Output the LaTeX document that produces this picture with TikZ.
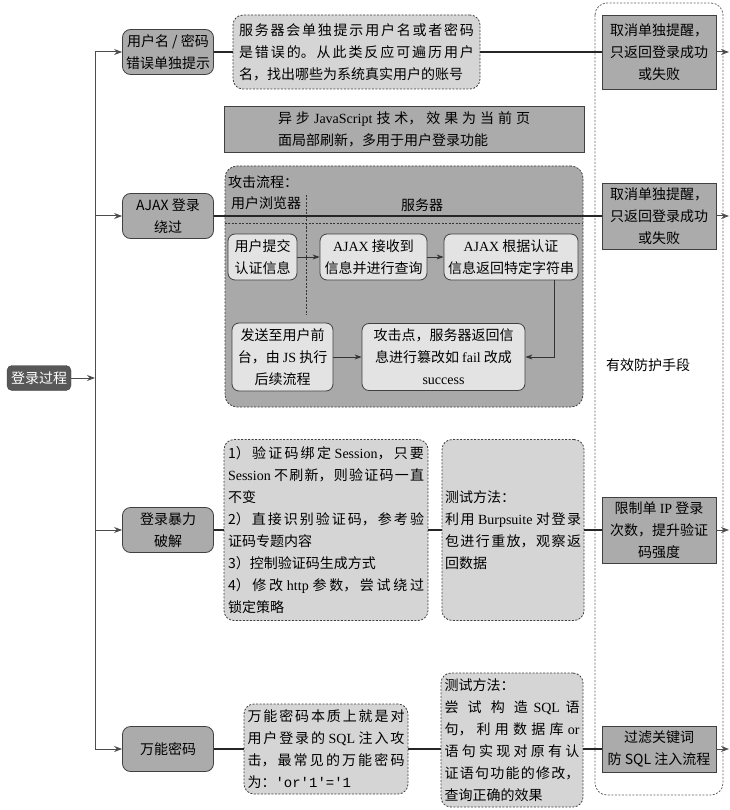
\documentclass[tikz,border=0pt]{standalone}
\usepackage{fontspec}
\setmainfont{Noto Sans CJK SC}
\setmonofont{Liberation Mono}
\newfontfamily\serifen{Liberation Serif}
\usepackage{tikz}
\usetikzlibrary{positioning,arrows.meta}
\XeTeXlinebreaklocale "zh"
\XeTeXlinebreakskip=0pt plus 6pt
\tolerance=9999
\hbadness=10000
\definecolor{rootgray}{HTML}{585858}
\definecolor{boxgray}{HTML}{ABABAB}
\definecolor{notegray}{HTML}{D5D5D5}
\definecolor{flowgray}{HTML}{A9A9A9}
\definecolor{cellgray}{HTML}{E3E3E3}
\definecolor{edgegray}{HTML}{404040}

\begin{document}
\begin{tikzpicture}[x=1pt,y=-1pt,font=\fontsize{14}{22}\selectfont,
  every node/.style={inner sep=2pt},
  topic/.style={draw=edgegray,line width=0.8pt,fill=boxgray,rounded corners=8pt,minimum width=91pt,minimum height=45pt,align=center},
  note/.style={draw=edgegray,line width=0.8pt,fill=notegray,dash pattern=on 2pt off 1.5pt,rounded corners=10pt,align=justify,inner xsep=4pt},
  cure/.style={draw=edgegray,line width=0.9pt,fill=boxgray,minimum width=114pt,align=center},
  cell/.style={draw=edgegray,line width=0.8pt,fill=cellgray,rounded corners=7pt,align=center},
  link/.style={line width=2.4pt,draw=black!85},
  branch/.style={draw=black!70,line width=1pt,-{Stealth[length=8pt,width=6pt]}},
  flowarrow/.style={draw=black!80,line width=0.9pt,-{Stealth[length=7pt,width=5pt]}},
  lane/.style={draw=black!80,line width=0.8pt,dash pattern=on 2pt off 1.5pt}]
\useasboundingbox (0,0) rectangle (729,810);
\coordinate (trunk) at (95,0);
\coordinate (edge) at (729,0);

\draw[draw=black!60,line width=0.8pt,dash pattern=on 2pt off 1.5pt,rounded corners=12pt] (595,3) rectangle (723,795);
\node (guard) at (648,365) {有效防护手段};

\node[fill=rootgray,draw=edgegray,text=white,rounded corners=5pt,minimum width=64pt,minimum height=25pt] (root) at (39,378) {登录过程};

\node[topic] (b1) at (168,52) {用户名 / 密码\\错误单独提示};
\node[note,text width=235pt,minimum height=74pt,inner xsep=6pt] (d1) at (356.5,52) {服务器会单独提示用户名或者密码\break 是错误的。从此类反应可遍历用户\break 名，找出哪些为系统真实用户的账号};
\node[cure,minimum height=74pt] (r1) at (659,52) {取消单独提醒，\\只返回登录成功\\或失败};

\node[draw=edgegray,line width=0.8pt,fill=boxgray,minimum width=360pt,minimum height=46pt,text width=252pt,align=justify] (ajaxnote) at (404,129) {异步 {\serifen JavaScript} 技术，效果为当前页\break 面局部刷新，多用于用户登录功能};

\node[draw=edgegray,line width=0.8pt,fill=flowgray,dash pattern=on 2pt off 1.5pt,rounded corners=12pt,minimum width=358pt,minimum height=241pt] (ajaxflow) at (404,286.5) {};
\node[anchor=west] (steps) at (226,182) {攻击流程：};
\node[anchor=west] (browser) at (229,203) {用户浏览器};
\node (server) at (422,205) {服务器};
\coordinate (lanecross) at (306,223);
\coordinate (lanetop) at (306,195);
\coordinate (lanebottom) at (306,315);
\draw[lane] (ajaxflow.west |- lanecross) -- (ajaxflow.east |- lanecross);
\draw[lane] (lanetop) -- (lanebottom);

\node[topic] (b2) at (168,216) {AJAX 登录\\绕过};
\node[cure,minimum height=66pt] (r2) at (659,216) {取消单独提醒，\\只返回登录成功\\或失败};

\node[cell,minimum width=69pt,minimum height=46pt] (i1) at (262.5,257) {用户提交\\认证信息};
\node[cell,minimum width=107pt,minimum height=46pt] (i2) at (373.5,257) {{\serifen AJAX} 接收到\\信息并进行查询};
\node[cell,minimum width=134pt,minimum height=46pt] (i3) at (511,257) {{\serifen AJAX} 根据认证\\信息返回特定字符串};
\node[cell,minimum width=101pt,minimum height=68pt] (i4) at (282.5,357) {发送至用户前\\台，由 {\serifen JS} 执行\\后续流程};
\node[cell,minimum width=163pt,minimum height=67pt] (i5) at (443.5,357) {攻击点，服务器返回信\\息进行篡改如 {\serifen fail} 改成\\{\serifen success}};

\node[topic] (b3) at (168,530) {登录暴力\\破解};
\node[note,text width=196pt,minimum height=181pt] (d3a) at (326,530) {1）验证码绑定 {\serifen Session}，只要\break {\serifen Session} 不刷新，则验证码一直\break 不变\\2）直接识别验证码，参考验\break 证码专题内容\\3）控制验证码生成方式\\4）修改 {\serifen http} 参数，尝试绕过\break 锁定策略};
\node[note,text width=136pt,inner xsep=3pt,minimum height=181pt] (d3b) at (513,530) {测试方法：\\利用 {\serifen Burpsuite} 对登录\break 包进行重放，观察返\break 回数据};
\node[cure,minimum height=66pt] (r3) at (659,530) {限制单 {\serifen IP} 登录\\次数，提升验证\\码强度};

\node[topic] (b4) at (168,749) {万能密码};
\node[note,text width=157pt,inner xsep=3.5pt,minimum height=90pt] (d4a) at (326,749) {万能密码本质上就是对\break 用户登录的 {\serifen SQL} 注入攻\break 击，最常见的万能密码\break 为：{\ttfamily 'or'1'='1}};
\node[note,text width=135pt,inner xsep=3.5pt,minimum height=134pt] (d4b) at (512,740) {测试方法：\\尝试构造 {\serifen SQL} 语\break 句，利用数据库 {\serifen or}\break 语句实现对原有认\break 证语句功能的修改，\break 查询正确的效果};
\node[cure,minimum height=46pt] (r4) at (659,749) {过滤关键词\\防 SQL 注入流程};

\draw[link] (b1) -- (d1) (d1) -- (r1);
\draw[link] (b2) -- (r2);
\draw[link] (b3) -- (d3a) (d3a) -- (d3b) (d3b) -- (r3);
\draw[link] (b4) -- (d4a) (d4a.east) -- (d4a.east -| d4b.west) (d4b.east |- r4) -- (r4);

\draw[branch] (root) -- (root -| trunk);
\draw[draw=black!70,line width=1pt] (b1 -| trunk) -- (b4 -| trunk);
\foreach \tp in {b1,b2,b3,b4} \draw[branch] (\tp -| trunk) -- (\tp);
\foreach \cu in {r1,r2,r3,r4} \draw[branch] (\cu) -- (\cu -| edge);

\draw[flowarrow] (i1) -- (i2);
\draw[flowarrow] (i2) -- (i3);
\draw[flowarrow] ([xshift=-24pt]i3.south east) |- (i5);
\draw[flowarrow] (i4) -- (i5);
\end{tikzpicture}
\end{document}
